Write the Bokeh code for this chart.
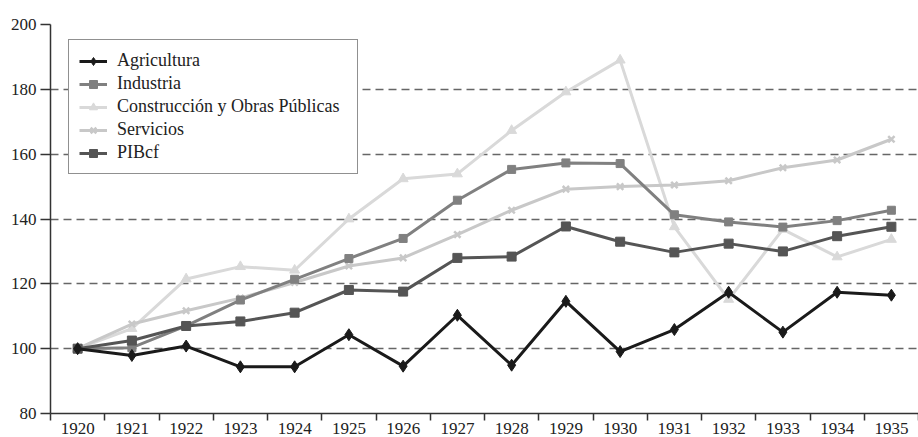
from bokeh.plotting import figure
from bokeh.models import Range1d, FixedTicker, Legend, LegendItem
from bokeh.embed import file_html
from bokeh.resources import INLINE

years = [1920, 1921, 1922, 1923, 1924, 1925, 1926, 1927, 1928, 1929, 1930, 1931, 1932, 1933, 1934, 1935]
agricultura = [100, 97.9, 100.8, 94.4, 94.4, 104.3, 94.6, 110.3, 94.9, 114.6, 99.1, 105.9, 117.4, 105.1, 117.4, 116.5]
industria = [100, 100.3, 107.0, 115.0, 121.4, 127.8, 134.0, 145.8, 155.3, 157.3, 157.1, 141.3, 139.1, 137.5, 139.5, 142.7]
construccion = [100, 106.2, 121.5, 125.3, 124.2, 140.0, 152.4, 153.9, 167.3, 179.2, 189.0, 137.6, 115.2, 136.8, 128.3, 133.7]
servicios = [100, 107.6, 111.7, 115.6, 120.4, 125.5, 128.0, 135.2, 142.7, 149.2, 150.0, 150.5, 151.8, 155.8, 158.2, 164.6]
pibcf = [100, 102.5, 107.0, 108.4, 111.1, 118.1, 117.6, 128.0, 128.4, 137.7, 133.0, 129.7, 132.4, 130.0, 134.7, 137.6]
y_ticks = [80, 100, 120, 140, 160, 180, 200]

FONT = "Liberation Serif, Times New Roman, serif"

p = figure(width=918, height=437,
           x_range=Range1d(years[0] - 0.5, years[-1] + 0.5),
           y_range=Range1d(y_ticks[0], y_ticks[-1]),
           output_backend="svg", toolbar_location=None,
           min_border_left=50, min_border_right=0, min_border_top=24, min_border_bottom=24,
           outline_line_color=None, background_fill_color="white")

# axes
xa = p.xaxis[0]
xa.ticker = FixedTicker(ticks=years, minor_ticks=[y - 0.5 for y in years] + [years[-1] + 0.5])
xa.major_tick_line_color = None
xa.major_tick_out = 7
xa.major_tick_in = 0
xa.minor_tick_out = 7
xa.minor_tick_in = 0
xa.minor_tick_line_color = "#333333"
xa.minor_tick_line_width = 1.5
xa.axis_line_color = "#333333"
xa.axis_line_width = 1.5
xa.major_label_standoff = 2
xa.major_label_text_font = FONT
xa.major_label_text_font_size = "17px"
xa.major_label_text_color = "#222222"
xa.major_label_overrides = {y: str(y) for y in years}

ya = p.yaxis[0]
ya.ticker = FixedTicker(ticks=y_ticks, minor_ticks=[])
ya.major_tick_out = 10
ya.major_tick_in = 0
ya.major_tick_line_color = "#333333"
ya.major_tick_line_width = 1.5
ya.minor_tick_line_color = None
ya.axis_line_color = "#333333"
ya.axis_line_width = 1.5
ya.major_label_standoff = 4
ya.major_label_text_font = FONT
ya.major_label_text_font_size = "17px"
ya.major_label_text_color = "#222222"

p.xgrid.visible = False
p.ygrid.grid_line_color = "#666666"
p.ygrid.grid_line_dash = "8 5"
p.ygrid.grid_line_width = 1.5

series = [
    ("Agricultura", agricultura, "#1a1a1a", "diamond", 12),
    ("Industria", industria, "#808080", "square", 8),
    ("Construcción y Obras Públicas", construccion, "#d9d9d9", "triangle", 10),
    ("Servicios", servicios, "#c8c8c8", "x", 9),
    ("PIBcf", pibcf, "#555555", "square", 9),
]

draw_order = [2, 3, 1, 4, 0]
rends = {}
for i in draw_order:
    name, vals, color, marker, size = series[i]
    l = p.line(years, vals, line_color=color, line_width=3)
    s = p.scatter(years, vals, marker=marker, size=size, fill_color=color,
                  line_color=color, line_width=2.5 if marker == "x" else 1)
    rends[i] = [l, s]

items = [LegendItem(label=series[i][0], renderers=rends[i]) for i in range(len(series))]
legend = Legend(items=items, location=(18, 239))
legend.border_line_color = "#222222"
legend.border_line_width = 1.3
legend.padding = 10
legend.spacing = 2
legend.label_height = 20
legend.label_width = 230
legend.glyph_height = 20
legend.glyph_width = 28
legend.label_standoff = 10
legend.label_text_font = FONT
legend.label_text_font_size = "18px"
legend.label_text_color = "#222222"
legend.background_fill_alpha = 1.0
p.add_layout(legend)

open("out.html", "w").write(file_html(p, INLINE))
